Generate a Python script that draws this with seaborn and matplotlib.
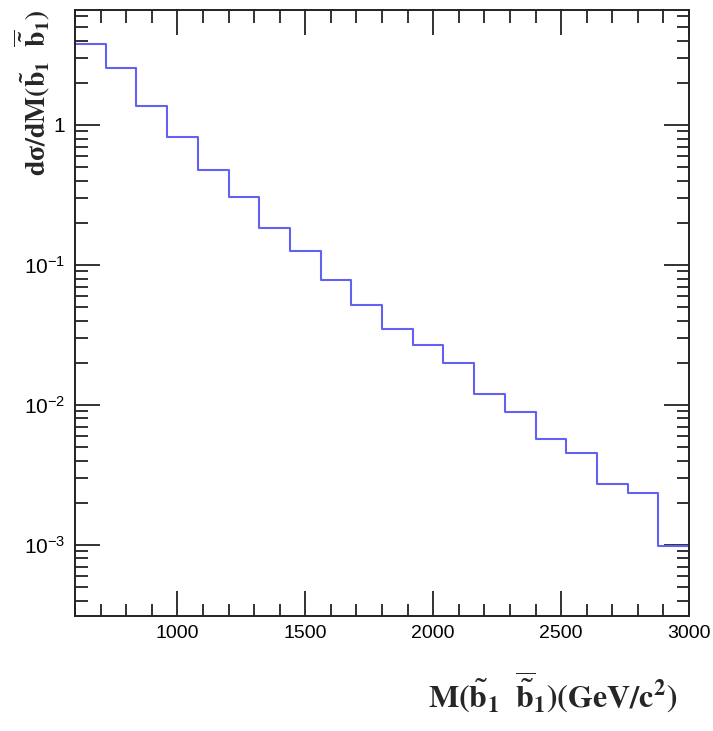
import numpy as np
import pandas as pd
import seaborn as sns
import matplotlib.pyplot as plt
from matplotlib.ticker import MultipleLocator, LogLocator, FixedLocator, FixedFormatter, NullFormatter

# bin edges of the mass histogram (GeV/c^2), 20 bins of 120
edges = [600, 720, 840, 960, 1080, 1200, 1320, 1440, 1560, 1680, 1800,
         1920, 2040, 2160, 2280, 2400, 2520, 2640, 2760, 2880, 3000]
dsigma = [3.82, 2.56, 1.37, 0.817, 0.478, 0.307, 0.185, 0.125, 0.0785, 0.0515,
          0.0348, 0.0267, 0.0200, 0.0119, 0.0089, 0.0057, 0.0045, 0.00273, 0.00233, 0.00099]
ytick_vals = [1e-3, 1e-2, 1e-1, 1]
ytick_labels = [r'$10^{-3}$', r'$10^{-2}$', r'$10^{-1}$', '1']
xtick_vals = [1000, 1500, 2000, 2500, 3000]

centers = [(a + b) / 2 for a, b in zip(edges[:-1], edges[1:])]
df = pd.DataFrame({'mass': centers, 'dsigma': dsigma})

sns.set_style('ticks')
plt.rcParams['font.family'] = ['Liberation Sans', 'DejaVu Sans']
plt.rcParams['mathtext.fontset'] = 'custom'
plt.rcParams['mathtext.rm'] = 'Liberation Sans'
plt.rcParams['mathtext.it'] = 'Liberation Sans'
plt.rcParams['mathtext.bf'] = 'Liberation Sans:bold'

fig = plt.figure(figsize=(7.13, 7.31), dpi=100)
ax = fig.add_axes([75 / 713, 1 - 615.5 / 731, (689 - 75) / 713, (615.5 - 10) / 731])

sns.histplot(data=df, x='mass', weights='dsigma', bins=edges, element='step',
             fill=False, color='#6262f2', linewidth=1.5, ax=ax)

ax.set_yscale('log')
ax.set_xlim(600, 3000)
ax.set_ylim(3.13e-4, 6.63)

ax.xaxis.set_major_locator(FixedLocator(xtick_vals))
ax.xaxis.set_minor_locator(MultipleLocator(100))
ax.yaxis.set_major_locator(FixedLocator(ytick_vals))
ax.yaxis.set_major_formatter(FixedFormatter(ytick_labels))
ax.yaxis.set_minor_locator(LogLocator(base=10, subs=np.arange(2, 10)))
ax.yaxis.set_minor_formatter(NullFormatter())

ax.tick_params(which='both', direction='in', top=True, right=True, width=1.3,
               colors='#222222', labelsize=14, labelcolor='black')
ax.tick_params(axis='y', which='major', labelsize=15)
ax.tick_params(which='major', length=18, pad=7)
ax.tick_params(which='minor', length=9)
for sp in ax.spines.values():
    sp.set_linewidth(1.4)
    sp.set_color('#222222')

ax.set_xlabel('')
ax.set_ylabel('')

serif = ['Liberation Serif', 'DejaVu Serif']
fig.text(32 / 713, 1 - 10 / 731,
         r'$\mathbf{d}$' + 'σ' + r'$\mathbf{/dM(\tilde{b}_1\ \ \overline{\tilde{b}}_1)}$',
         rotation=90, ha='center', va='top', fontsize=20, fontweight='bold',
         family=serif, math_fontfamily='stix')
fig.text(677 / 713, 1 - 708 / 731,
         r'$\mathbf{M(\tilde{b}_1\ \ \overline{\tilde{b}}_1)(GeV/c^2)}$',
         ha='right', va='baseline', fontsize=23, math_fontfamily='stix')

plt.savefig('out.png', dpi=100)
